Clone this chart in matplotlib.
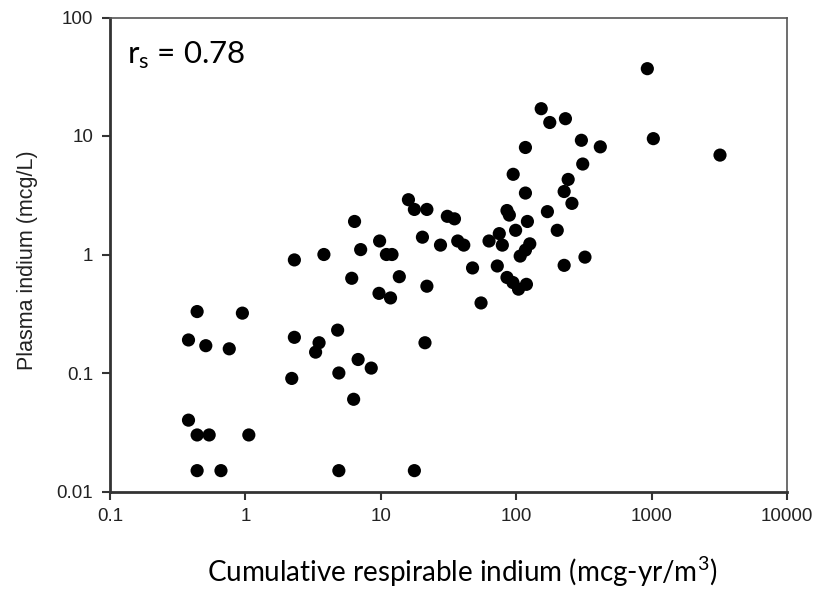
import matplotlib
matplotlib.use("Agg")
import matplotlib.pyplot as plt
from matplotlib.ticker import FixedLocator, FixedFormatter, NullLocator

plt.rcParams["font.family"] = ["Liberation Sans", "DejaVu Sans"]

# Cumulative respirable indium (mcg-yr/m3)
cumulative_indium = [
    0.44, 0.95, 0.38, 0.51, 0.76, 0.38, 0.44, 0.54, 1.06, 0.44, 0.66,
    2.3, 3.5, 3.3, 4.8, 2.2, 6.8, 4.9, 8.5, 6.3, 4.9,
    2.3, 3.8, 6.4, 7.1, 6.1, 9.8, 11.0, 12.1, 9.7, 11.8, 13.7,
    16.0, 17.7, 21.9, 20.3, 21.9, 21.2, 17.7,
    31.0, 35.0, 27.6, 37.0, 41.0, 47.6, 55.0, 63.0, 75.0, 79.0, 72.5,
    85.5, 89.0, 95.0, 99.0, 121.0, 126.0, 117.0, 107.0, 85.5, 94.6, 104.0, 119.0,
    117.0, 117.0, 153.0, 177.0, 231.0, 170.0, 201.0, 226.0, 242.0, 258.0,
    226.0, 322.0, 303.0, 418.0, 310.0, 930.0, 1030.0, 3200.0,
]
# Plasma indium (mcg/L)
plasma_indium = [
    0.33, 0.32, 0.19, 0.17, 0.16, 0.040, 0.030, 0.030, 0.030, 0.015, 0.015,
    0.20, 0.18, 0.15, 0.23, 0.09, 0.13, 0.10, 0.11, 0.06, 0.015,
    0.90, 1.0, 1.9, 1.1, 0.63, 1.3, 1.0, 1.0, 0.47, 0.43, 0.65,
    2.9, 2.4, 2.4, 1.4, 0.54, 0.18, 0.015,
    2.1, 2.0, 1.2, 1.3, 1.2, 0.77, 0.39, 1.3, 1.5, 1.2, 0.80,
    2.35, 2.15, 4.75, 1.6, 1.9, 1.23, 1.09, 0.97, 0.64, 0.58, 0.51, 0.56,
    8.0, 3.3, 17.0, 13.0, 14.0, 2.3, 1.6, 3.4, 4.3, 2.7,
    0.81, 0.95, 9.2, 8.1, 5.8, 37.0, 9.5, 6.9,
]

x_ticks = [0.1, 1, 10, 100, 1000, 10000]
x_tick_labels = ["0.1", "1", "10", "100", "1000", "10000"]
y_ticks = [0.01, 0.1, 1, 10, 100]
y_tick_labels = ["0.01", "0.1", "1", "10", "100"]

x_label = "Cumulative respirable indium (mcg-yr/m$^\\mathregular{3}$)"
y_label = "Plasma indium (mcg/L)"
annotation = "r$_\\mathregular{s}$ = 0.78"

fig = plt.figure(figsize=(8.28, 5.90), dpi=100)
ax = fig.add_axes([110 / 828, 1 - 491.5 / 590, (787 - 110) / 828, (491.5 - 17.5) / 590])

ax.scatter(cumulative_indium, plasma_indium, s=90, color="black",
           edgecolors="none", zorder=3, clip_on=False)

ax.set_xscale("log")
ax.set_yscale("log")
ax.set_xlim(0.1, 10000)
ax.set_ylim(0.01, 100)

ax.xaxis.set_major_locator(FixedLocator(x_ticks))
ax.xaxis.set_major_formatter(FixedFormatter(x_tick_labels))
ax.yaxis.set_major_locator(FixedLocator(y_ticks))
ax.yaxis.set_major_formatter(FixedFormatter(y_tick_labels))
ax.xaxis.set_minor_locator(NullLocator())
ax.yaxis.set_minor_locator(NullLocator())

ax.tick_params(axis="both", which="major", direction="out", length=6,
               width=1.5, color="#333333", pad=6, labelsize=13.5,
               labelcolor="#222222")

for side in ["left", "bottom"]:
    ax.spines[side].set_linewidth(2.0)
    ax.spines[side].set_color("#333333")
for side in ["top", "right"]:
    ax.spines[side].set_linewidth(1.2)
    ax.spines[side].set_color("#555555")

fig.text(28 / 828, 1 - 260 / 590, y_label, rotation=90, ha="center",
         va="center", fontsize=15.5, color="#222222")
fig.text(462 / 828, 1 - 572 / 590, x_label, ha="center", va="center",
         fontfamily="Lato", fontsize=20, color="black")
fig.text(127 / 828, 1 - 55 / 590, annotation, ha="left", va="center",
         fontfamily="Lato", fontsize=22.5, color="black")

fig.savefig("out.png", dpi=100, facecolor="white")
